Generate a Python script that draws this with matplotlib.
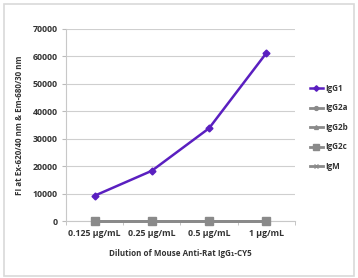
import numpy as np
import matplotlib.pyplot as plt
from matplotlib.patches import Rectangle

# Data
categories = ['0.125 µg/mL', '0.25 µg/mL', '0.5 µg/mL', '1 µg/mL']
igg1 = [9200, 18300, 33800, 61200]
igg2a = [150, 150, 150, 150]
igg2b = [150, 150, 150, 150]
igg2c = [150, 150, 150, 150]
igm = [150, 150, 150, 150]
yticks = [0, 10000, 20000, 30000, 40000, 50000, 60000, 70000]

plt.rcParams['font.family'] = ['Open Sans', 'DejaVu Sans']

fig = plt.figure(figsize=(3.58, 2.78), dpi=100)
ax = fig.add_axes([0.184, 0.205, 0.640, 0.691])

x = np.arange(len(categories))
gray = '#8a8a8a'
ax.plot(x, igg2a, color=gray, lw=2, marker='o', ms=3.5, label='IgG2a', clip_on=False, zorder=3)
ax.plot(x, igg2b, color=gray, lw=2, marker='^', ms=3.5, label='IgG2b', clip_on=False, zorder=3)
ax.plot(x, igm, color=gray, lw=2, marker='x', ms=3.5, label='IgM', clip_on=False, zorder=3)
ax.plot(x, igg2c, color=gray, lw=2, marker='s', ms=5.5, label='IgG2c', clip_on=False, zorder=3)
ax.plot(x, igg1, color='#5a1fc0', lw=1.8, marker='D', ms=3.5, label='IgG1', zorder=4)

ax.set_xlim(-0.5, 3.5)
ax.set_ylim(0, 70000)
ax.set_yticks(yticks)
ax.set_xticks(x)
ax.set_xticklabels(categories)
ax.set_xticks(np.arange(-0.5, 4, 1), minor=True)
ax.tick_params(axis='x', which='major', length=0, pad=6)
ax.tick_params(axis='x', which='minor', length=3, color='#bbbbbb')
ax.tick_params(axis='y', length=3, color='#bbbbbb', pad=3)
ax.tick_params(labelsize=6.3, labelcolor='#333333')
for lbl in ax.get_xticklabels() + ax.get_yticklabels():
    lbl.set_fontweight('bold')
ax.grid(axis='y', color='#cfcfcf', lw=0.8)
ax.set_axisbelow(True)
for side in ['top', 'right']:
    ax.spines[side].set_visible(False)
for side in ['left', 'bottom']:
    ax.spines[side].set_color('#c8c8c8')

ax.set_xlabel('Dilution of Mouse Anti-Rat IgG₁-CY5', fontsize=5.8,
              fontweight='bold', color='#333333', labelpad=8)
ax.set_ylabel('FI at Ex-620/40 nm & Em-680/30 nm', fontsize=5.8,
              fontweight='bold', color='#333333', labelpad=6)

handles, labels = ax.get_legend_handles_labels()
order = ['IgG1', 'IgG2a', 'IgG2b', 'IgG2c', 'IgM']
hl = dict(zip(labels, handles))
leg = ax.legend([hl[k] for k in order], order, loc='upper left',
                bbox_to_anchor=(1.05, 0.73), frameon=False,
                prop={'size': 5.8, 'weight': 'bold'},
                handlelength=1.6, handletextpad=0.3, labelspacing=1.3,
                borderaxespad=0, markerscale=0.8)
for t in leg.get_texts():
    t.set_color('#333333')

# light frame round the whole picture
fig.patches.append(Rectangle((0.012, 0.008), 0.976, 0.978, transform=fig.transFigure,
                             fill=False, ec='#d9d9d9', lw=1.2))

fig.savefig('out.png', dpi=100)
